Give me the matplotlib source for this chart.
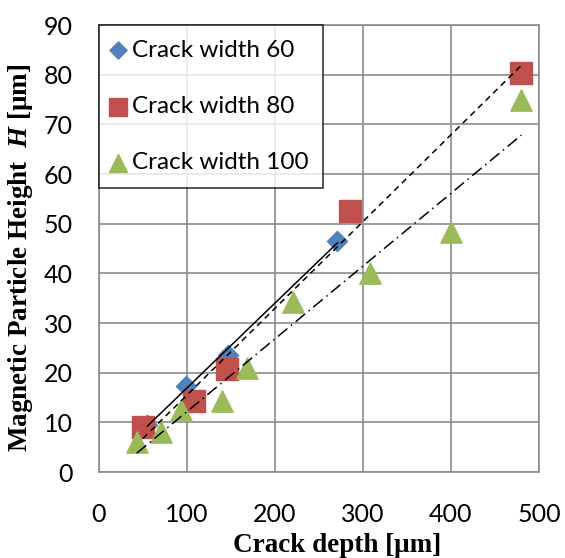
import numpy as np
import matplotlib
matplotlib.use("Agg")
import matplotlib.pyplot as plt

plt.rcParams['mathtext.fontset'] = 'custom'
plt.rcParams['mathtext.it'] = 'Liberation Serif:italic:bold'
plt.rcParams['mathtext.rm'] = 'Liberation Serif:bold'

x60 = [55, 99, 147, 271]
y60 = [9.5, 17.4, 23.6, 46.6]
x80 = [50, 108, 146, 285, 480]
y80 = [9.0, 14.3, 20.8, 52.5, 80.3]
x100 = [43, 71, 93, 140, 168, 220, 308, 400, 480]
y100 = [6.0, 8.0, 12.4, 14.4, 21.0, 34.3, 40.0, 48.3, 75.0]

labels = ["Crack width 60", "Crack width 80", "Crack width 100"]
xticks = [0, 100, 200, 300, 400, 500]
yticks = [0, 10, 20, 30, 40, 50, 60, 70, 80, 90]

fig = plt.figure(figsize=(5.65, 5.58), dpi=100)
ax = fig.add_axes([0.175, 0.154, 0.779, 0.801])

tickfont = 'Lato'

ax.scatter(x60, y60, marker='D', s=105, color='#4f81bd', label=labels[0], zorder=3)
ax.scatter(x80, y80, marker='s', s=235, color='#c0504d', label=labels[1], zorder=3)
ax.scatter(x100, y100, marker='^', s=235, color='#9bbb59', label=labels[2], zorder=3)

for xs, ys, ls in [(x60, y60, '-'), (x80, y80, (0, (4, 3))), (x100, y100, (0, (8, 3, 1, 3)))]:
    p = np.polyfit(xs, ys, 1)
    xx = np.array([min(xs), max(xs)])
    ax.plot(xx, np.polyval(p, xx), color='black', lw=1.1, linestyle=ls, zorder=4)

ax.set_xlim(0, 500)
ax.set_ylim(0, 90)
ax.set_xticks(xticks)
ax.set_yticks(yticks)
ax.tick_params(length=0, labelsize=18)
ax.tick_params(axis='x', pad=22)
ax.tick_params(axis='y', pad=19)
for lab in ax.get_xticklabels() + ax.get_yticklabels():
    lab.set_fontfamily(tickfont)
ax.grid(True, color='#8c8c8c', lw=1.2)
ax.set_axisbelow(True)
for s in ax.spines.values():
    s.set_color('#8c8c8c')
    s.set_linewidth(1.2)

ax.set_xlabel("Crack depth [\u03bcm]", fontfamily='Liberation Serif', fontweight='bold', fontsize=19.5)
ax.xaxis.set_label_coords(0.541, -0.136)
ax.set_ylabel("Magnetic Particle Height  $H$ [\u03bcm]", fontfamily='Liberation Serif', fontweight='bold', fontsize=19.5)
ax.yaxis.set_label_coords(-0.145, 0.479)

leg = ax.legend(loc='upper left', bbox_to_anchor=(0.0, 1.0), borderaxespad=0,
                prop={'family': tickfont, 'size': 17.5}, frameon=True, fancybox=False,
                edgecolor='black', handletextpad=0.35, labelspacing=1.45, handlelength=0.4,
                borderpad=0.6, markerscale=0.85)
leg.get_frame().set_linewidth(1.2)

fig.savefig("out.png", dpi=100)
